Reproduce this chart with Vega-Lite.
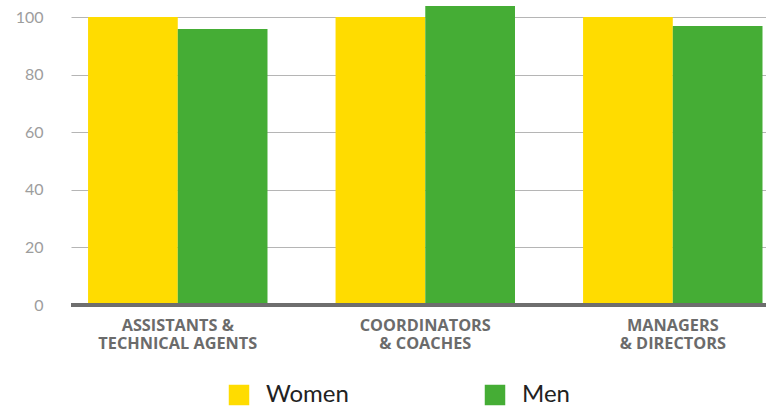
{
  "$schema": "https://vega.github.io/schema/vega-lite/v6.json",
  "autosize": {"type": "none"},
  "width": 695,
  "height": 288,
  "padding": {"left": 71, "top": 17, "right": 0, "bottom": 103},
  "background": "white",
  "config": {"view": {"stroke": null}, "font": "Lato"},
  "data": {"values": [
    {"category": "ASSISTANTS &|TECHNICAL AGENTS", "gender": "Women", "value": 100},
    {"category": "ASSISTANTS &|TECHNICAL AGENTS", "gender": "Men", "value": 95.8},
    {"category": "COORDINATORS|& COACHES", "gender": "Women", "value": 100},
    {"category": "COORDINATORS|& COACHES", "gender": "Men", "value": 103.8},
    {"category": "MANAGERS|& DIRECTORS", "gender": "Women", "value": 100},
    {"category": "MANAGERS|& DIRECTORS", "gender": "Men", "value": 96.9}
  ]},
  "layer": [
    {
      "mark": {"type": "bar"},
      "encoding": {
        "x": {
          "field": "category", "type": "nominal", "sort": null,
          "scale": {"paddingInner": 0.275, "paddingOuter": 0.0415, "align": 0.83},
          "axis": {
            "title": null, "domain": false, "ticks": false, "labelAngle": 0,
            "labelExpr": "split(datum.label, '|')",
            "labelFont": "Open Sans",
            "labelFontSize": 16.3, "labelFontWeight": "bold", "labelColor": "#6b6b6b",
            "labelLineHeight": 18, "labelPadding": 12
          }
        },
        "xOffset": {"field": "gender", "type": "nominal", "sort": ["Women", "Men"], "scale": {"paddingInner": 0, "paddingOuter": 0}},
        "y": {
          "field": "value", "type": "quantitative",
          "scale": {"domain": [0, 100], "nice": false},
          "axis": {
            "title": null, "domain": false, "ticks": false,
            "values": [0, 20, 40, 60, 80, 100],
            "labelFontSize": 16, "labelColor": "#9d9d9d", "labelPadding": 28,
            "gridColor": "#b5b5b5", "gridWidth": 1
          }
        },
        "color": {
          "field": "gender", "type": "nominal", "sort": ["Women", "Men"],
          "scale": {"domain": ["Women", "Men"], "range": ["#FFDC00", "#45AD35"]},
          "legend": {
            "title": null, "orient": "none", "direction": "horizontal",
            "legendX": 156, "legendY": 366,
            "symbolType": "square", "symbolSize": 420, "symbolStrokeWidth": 0, "symbolOpacity": 1,
            "labelFontSize": 24, "labelColor": "#222222", "labelOffset": 15,
            "columnPadding": 134
          }
        }
      }
    },
    {
      "mark": {"type": "rule", "color": "#6e6e6e", "strokeWidth": 3.5},
      "encoding": {"y": {"datum": 0}}
    }
  ]
}
